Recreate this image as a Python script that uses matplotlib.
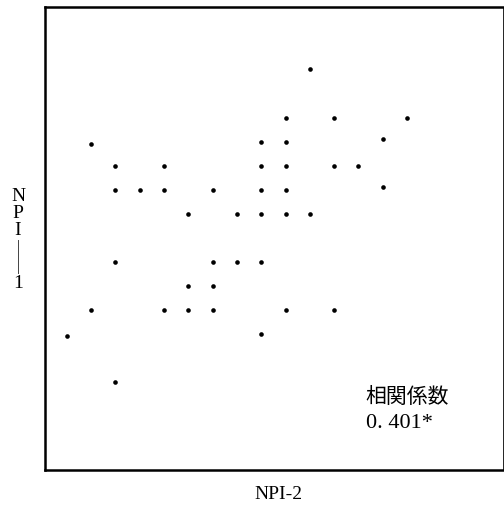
import matplotlib
matplotlib.use("Agg")
import matplotlib.pyplot as plt
from matplotlib.lines import Line2D

# NPI-2 (x) and NPI-1 (y) scores
npi2 = [11,
        10, 12, 15,
        2, 9, 10, 14,
        3, 5, 9, 10, 12, 13,
        3, 4, 5, 7, 9, 10, 14,
        6, 8, 9, 10, 11,
        3, 7, 8, 9,
        6, 7,
        2, 5, 6, 7, 10, 12,
        1, 9,
        3]
npi1 = [14,
        12, 12, 12,
        10.9, 11, 11, 11.1,
        10, 10, 10, 10, 10, 10,
        9, 9, 9, 9, 9, 9, 9.1,
        8, 8, 8, 8, 8,
        6, 6, 6, 6,
        5, 5,
        4, 4, 4, 4, 4, 4,
        2.9, 3,
        1]
corr_label = "相関係数"
corr_value = "0. 401*"

fig = plt.figure(figsize=(5.04, 5.10), dpi=100)
ax = fig.add_axes([45/504, 1-471/510, 458/504, 463/510])
ax.scatter(npi2, npi1, s=11, color="black", linewidths=0)
ax.set_xlim(0.1, 18.95)
ax.set_ylim(-2.67, 16.6)
ax.set_xticks([])
ax.set_yticks([])
for side in ["left", "bottom", "top"]:
    ax.spines[side].set_linewidth(1.8)
ax.spines["right"].set_linewidth(0.6)

jp = ["Noto Sans CJK JP", "DejaVu Sans"]
ax.text(0.70, 0.160, corr_label, transform=ax.transAxes, fontsize=15,
        family=jp, va="center", ha="left")
ax.text(0.70, 0.103, corr_value, transform=ax.transAxes, fontsize=16,
        family="Liberation Serif", va="center", ha="left")

# x label
fig.text(278/504, 1-495/510, "NPI-2", family="Liberation Serif",
         fontsize=14, ha="center", va="center")

# y label, stacked letters
for ch, py in [("N", 197), ("P", 214), ("I", 231), ("1", 284)]:
    fig.text(18/504, 1-py/510, ch, family="Liberation Serif", fontsize=14,
             ha="center", va="center")
fig.add_artist(Line2D([18/504, 18/504], [1-241/510, 1-274/510],
                      transform=fig.transFigure, color="#444444", lw=0.7))

fig.savefig("out.png", dpi=100)
